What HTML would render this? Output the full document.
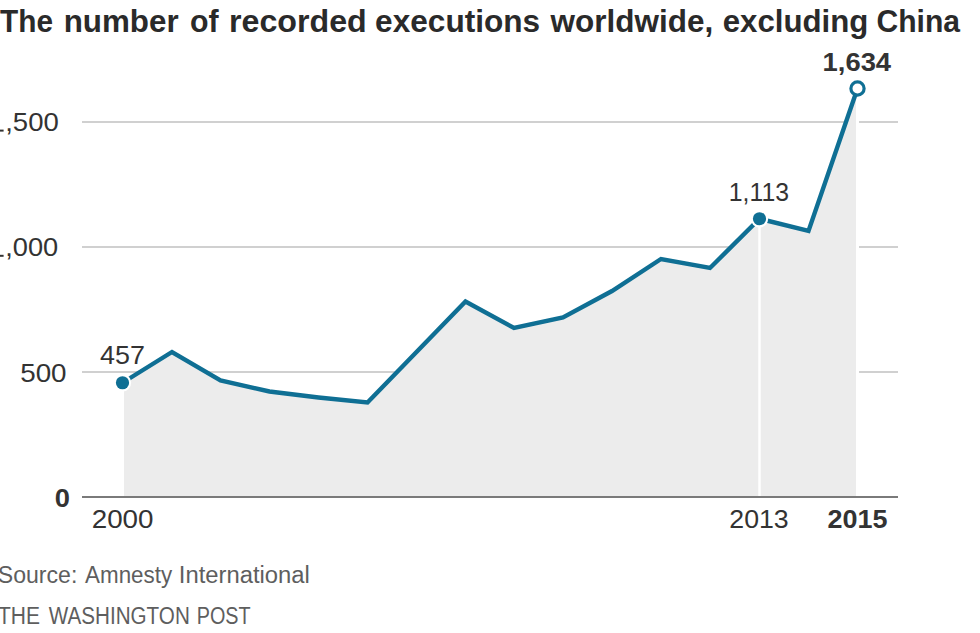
<!DOCTYPE html>
<html>
<head>
<meta charset="utf-8">
<style>
html,body{margin:0;padding:0;background:#fff;}
body{width:980px;height:633px;overflow:hidden;}
svg{display:block;}
text{font-family:"Liberation Sans",sans-serif;}
</style>
</head>
<body>
<svg width="980" height="633" viewBox="0 0 980 633">
<g stroke="#d0d0d0" stroke-width="2"><line x1="82" y1="122" x2="898" y2="122"/><line x1="82" y1="247" x2="898" y2="247"/><line x1="82" y1="372" x2="898" y2="372"/></g>
<polygon fill="#ececec" points="122.5,497 122.5,382.75 172,352 220.5,380.5 269.5,391.5 318.5,397.5 367.5,402.5 416.5,352 465.5,301.5 514,328 563,317.5 612,291 661,259 710,268 759.5,218.75 808.5,231 857.5,88.5 857.5,497"/>
<line x1="122.5" y1="383" x2="122.5" y2="496" stroke="#fff" stroke-width="3"/>
<line x1="759.5" y1="219" x2="759.5" y2="496" stroke="#fff" stroke-width="2.5"/>
<line x1="857.5" y1="88" x2="857.5" y2="496" stroke="#fff" stroke-width="3"/>
<line x1="82" y1="497" x2="898" y2="497" stroke="#7a7a7a" stroke-width="2"/>
<polyline fill="none" stroke="#0f6f94" stroke-width="4.4" stroke-linejoin="miter" points="122.5,382.75 172,352 220.5,380.5 269.5,391.5 318.5,397.5 367.5,402.5 416.5,352 465.5,301.5 514,328 563,317.5 612,291 661,259 710,268 759.5,218.75 808.5,231 857.5,88.5"/>
<circle cx="122.5" cy="382.75" r="8.7" fill="#fff"/>
<circle cx="122.5" cy="382.75" r="6.6" fill="#0f6f94"/>
<circle cx="759.5" cy="218.75" r="8.7" fill="#fff"/>
<circle cx="759.5" cy="218.75" r="6.6" fill="#0f6f94"/>
<circle cx="857.5" cy="88.5" r="6.6" fill="#fff" stroke="#0f6f94" stroke-width="3.2"/>
<rect x="0" y="129.6" width="3.6" height="2" fill="#333"/>
<rect x="0" y="254.8" width="3.6" height="2" fill="#333"/>
<text x="0.00" y="31.70" font-size="32.2" fill="#2a2a2a" font-weight="bold" textLength="53.00" lengthAdjust="spacingAndGlyphs">The</text>
<text x="63.70" y="31.70" font-size="32.2" fill="#2a2a2a" font-weight="bold" textLength="114.90" lengthAdjust="spacingAndGlyphs">number</text>
<text x="190.00" y="31.70" font-size="32.2" fill="#2a2a2a" font-weight="bold" textLength="28.60" lengthAdjust="spacingAndGlyphs">of</text>
<text x="229.00" y="31.70" font-size="32.2" fill="#2a2a2a" font-weight="bold" textLength="137.70" lengthAdjust="spacingAndGlyphs">recorded</text>
<text x="375.10" y="31.70" font-size="32.2" fill="#2a2a2a" font-weight="bold" textLength="165.10" lengthAdjust="spacingAndGlyphs">executions</text>
<text x="550.60" y="31.70" font-size="32.2" fill="#2a2a2a" font-weight="bold" textLength="162.60" lengthAdjust="spacingAndGlyphs">worldwide,</text>
<text x="722.70" y="31.70" font-size="32.2" fill="#2a2a2a" font-weight="bold" textLength="145.70" lengthAdjust="spacingAndGlyphs">excluding</text>
<text x="876.50" y="31.70" font-size="32.2" fill="#2a2a2a" font-weight="bold" textLength="83.50" lengthAdjust="spacingAndGlyphs">China</text>
<text x="5.20" y="131.20" font-size="25.8" fill="#333" textLength="53.60" lengthAdjust="spacingAndGlyphs">,500</text>
<text x="5.20" y="256.40" font-size="25.8" fill="#333" textLength="53.00" lengthAdjust="spacingAndGlyphs">,000</text>
<text x="20.20" y="382.10" font-size="25.8" fill="#333" textLength="46.40" lengthAdjust="spacingAndGlyphs">500</text>
<text x="54.80" y="506.80" font-size="26.3" fill="#333" font-weight="bold" textLength="15.20" lengthAdjust="spacingAndGlyphs">0</text>
<text x="100.00" y="363.90" font-size="25.8" fill="#333" textLength="44.90" lengthAdjust="spacingAndGlyphs">457</text>
<text x="728.80" y="200.70" font-size="25.8" fill="#333" textLength="60.20" lengthAdjust="spacingAndGlyphs">1,113</text>
<text x="822.60" y="71.10" font-size="26.3" fill="#333" font-weight="bold" textLength="68.50" lengthAdjust="spacingAndGlyphs">1,634</text>
<text x="91.70" y="528.10" font-size="25.8" fill="#333" textLength="61.80" lengthAdjust="spacingAndGlyphs">2000</text>
<text x="729.30" y="527.80" font-size="25.8" fill="#333" textLength="59.40" lengthAdjust="spacingAndGlyphs">2013</text>
<text x="827.50" y="528.00" font-size="26.3" fill="#333" font-weight="bold" textLength="60.00" lengthAdjust="spacingAndGlyphs">2015</text>
<text x="-2.20" y="583.20" font-size="23" fill="#5e5e5e" textLength="79.50" lengthAdjust="spacingAndGlyphs">Source:</text>
<text x="85.10" y="583.20" font-size="23" fill="#5e5e5e" textLength="87.00" lengthAdjust="spacingAndGlyphs">Amnesty</text>
<text x="178.80" y="583.20" font-size="23" fill="#5e5e5e" textLength="131.00" lengthAdjust="spacingAndGlyphs">International</text>
<text x="-2.00" y="623.70" font-size="23" fill="#5e5e5e" textLength="42.00" lengthAdjust="spacingAndGlyphs">THE</text>
<text x="48.80" y="623.70" font-size="23" fill="#5e5e5e" textLength="141.00" lengthAdjust="spacingAndGlyphs">WASHINGTON</text>
<text x="196.70" y="623.70" font-size="23" fill="#5e5e5e" textLength="53.90" lengthAdjust="spacingAndGlyphs">POST</text>
</svg>
</body>
</html>
